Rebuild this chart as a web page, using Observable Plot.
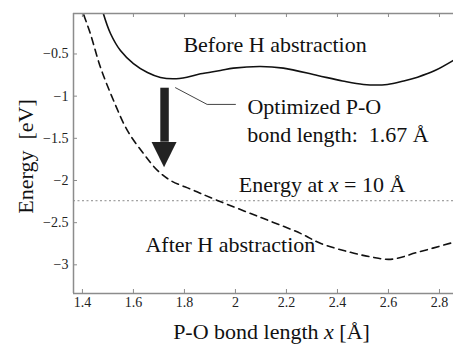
<!DOCTYPE html>
<html><head><meta charset="utf-8">
<script src="https://cdn.jsdelivr.net/npm/d3@7"></script>
<script src="https://cdn.jsdelivr.net/npm/@observablehq/plot@0.6"></script>
<style>body{margin:0;background:#fff} svg text{font-family:'Liberation Serif','Times New Roman',serif}</style>
</head><body><div id="chart"></div>
<script>
// Curve before H abstraction (solid)
const beforeX = [1.468, 1.482, 1.510, 1.549, 1.600, 1.655, 1.706, 1.757, 1.810, 1.863, 1.941, 1.992, 2.098, 2.188, 2.322, 2.420, 2.502, 2.596, 2.660, 2.714, 2.780, 2.855];
const beforeE = [0.15, -0.02, -0.257, -0.459, -0.613, -0.719, -0.778, -0.794, -0.775, -0.735, -0.696, -0.668, -0.648, -0.668, -0.755, -0.82, -0.861, -0.861, -0.82, -0.775, -0.70, -0.575];
// Curve after H abstraction (dashed)
const afterX = [1.395, 1.404, 1.431, 1.471, 1.522, 1.576, 1.639, 1.694, 1.745, 1.830, 1.929, 2.098, 2.255, 2.333, 2.451, 2.530, 2.608, 2.714, 2.855];
const afterE = [0.1, -0.02, -0.257, -0.66, -1.051, -1.406, -1.679, -1.880, -1.999, -2.11, -2.236, -2.437, -2.627, -2.745, -2.852, -2.905, -2.935, -2.852, -2.733];
// Energy at x = 10 Å
const asymptoteE = [-2.24];
// ticks
const xTicks = [1.4, 1.6, 1.8, 2, 2.2, 2.4, 2.6, 2.8];
const yTicks = [-3, -2.5, -2, -1.5, -1, -0.5];
// annotations
const annText = ["Before H abstraction", "Optimized P-O", "bond length:\u00A0 1.67 \u00C5", "Energy at x = 10 \u00C5", "After H abstraction"];
const annX = [1.796, 2.047, 2.046, 2.013, 1.647];
const annY = [-0.482, -1.209, -1.545, -2.137, -2.848];
// arrow (data coords)
const arrowX = 1.722, arrowTop = -0.90, arrowBase = -1.55, arrowTip = -1.85, arrowHalf = 0.049;
// leader line
const leaderX = [1.765, 1.889, 2.0];
const leaderE = [-0.90, -1.098, -1.098];

const xDom = [1.365, 2.855];
const yDom = [-3.34, -0.02];
const W = 453, H = 347, mL = 73, mR = 0, mT = 13, mB = 54;
const xPerPx = (xDom[1] - xDom[0]) / (W - mL - mR);
const yPerPx = (yDom[1] - yDom[0]) / (H - mT - mB);
const gray = "#8c8c8c";
const tl = 4;
const serif = "'Liberation Serif', 'Times New Roman', serif";

const before = beforeX.map((x, i) => ({x, y: beforeE[i]}));
const after = afterX.map((x, i) => ({x, y: afterE[i]}));
const leader = leaderX.map((x, i) => ({x, y: leaderE[i]}));
const head = [
  {x: arrowX - arrowHalf, y1: arrowBase, y2: arrowBase},
  {x: arrowX, y1: arrowBase, y2: arrowTip},
  {x: arrowX + arrowHalf, y1: arrowBase, y2: arrowBase}
];
const fmt = d3.format("");

const svg = Plot.plot({
  width: W, height: H,
  marginLeft: mL, marginRight: mR, marginTop: mT, marginBottom: mB,
  style: {fontFamily: serif, background: "#fff", color: "#111", overflow: "visible"},
  x: {domain: xDom},
  y: {domain: yDom},
  marks: [
    Plot.ruleY(asymptoteE, {stroke: "#8a8a8a", strokeWidth: 1, strokeDasharray: "2,2.5"}),
    Plot.line(before, {x: "x", y: "y", stroke: "#111", strokeWidth: 1.6, curve: "catmull-rom", clip: true}),
    Plot.line(after, {x: "x", y: "y", stroke: "#111", strokeWidth: 1.6, strokeDasharray: "7,5", curve: "catmull-rom", clip: true}),
    Plot.line([{x: arrowX, y: arrowTop}, {x: arrowX, y: arrowBase + 0.01}], {x: "x", y: "y", stroke: "#222", strokeWidth: 8.5, strokeLinecap: "butt"}),
    Plot.areaY(head, {x: "x", y1: "y1", y2: "y2", fill: "#222", curve: "linear"}),
    Plot.line(leader, {x: "x", y: "y", stroke: "#444", strokeWidth: 1}),
    Plot.text(d3.range(annText.length), {x: i => annX[i], y: i => annY[i], text: i => annText[i], textAnchor: "start", lineAnchor: "bottom", fontSize: 22, fontFamily: serif, fill: "#111"}),
    // axis lines
    Plot.ruleX([xDom[0]], {stroke: gray, strokeWidth: 1.5}),
    Plot.ruleY([yDom[0]], {stroke: gray, strokeWidth: 1.5}),
    Plot.ruleY([yDom[1]], {stroke: gray, strokeWidth: 1.5}),
    // inward ticks
    Plot.ruleX(xTicks, {x: d => d, y1: yDom[0], y2: yDom[0] + tl * yPerPx, stroke: gray, strokeWidth: 1}),
    Plot.ruleX(xTicks, {x: d => d, y1: yDom[1], y2: yDom[1] - tl * yPerPx, stroke: gray, strokeWidth: 1}),
    Plot.ruleY(yTicks, {y: d => d, x1: xDom[0], x2: xDom[0] + tl * xPerPx, stroke: gray, strokeWidth: 1}),
    // tick labels
    Plot.axisX({ticks: xTicks, tickSize: 0, tickPadding: 4, fontSize: 14, fontFamily: serif, fill: "#222", tickFormat: fmt, label: null}),
    Plot.axisY({ticks: yTicks, tickSize: 0, tickPadding: 5, fontSize: 14, fontFamily: serif, fill: "#222", tickFormat: fmt, label: null}),
    // axis titles
    Plot.text(["P-O bond length x [\u00C5]"], {frameAnchor: "bottom", dx: 8, dy: 45, lineAnchor: "bottom", fontSize: 22, fontFamily: serif, fill: "#111"}),
    Plot.text(["Energy\u00A0 [eV]"], {frameAnchor: "left", dx: -48, dy: 3, rotate: -90, textAnchor: "middle", lineAnchor: "middle", fontSize: 22, fontFamily: serif, fill: "#111"})
  ]
});

// italicize the variable x
svg.querySelectorAll("text").forEach(t => {
  if (t.querySelector("tspan")) return;
  const s = t.textContent;
  if (/ x /.test(s)) {
    const parts = s.split(" x ");
    t.textContent = "";
    t.append(parts[0] + " ");
    const ts = document.createElementNS("http://www.w3.org/2000/svg", "tspan");
    ts.setAttribute("font-style", "italic");
    ts.textContent = "x";
    t.append(ts, " " + parts[1]);
  }
});

document.getElementById("chart").append(svg);
</script>
</body></html>
